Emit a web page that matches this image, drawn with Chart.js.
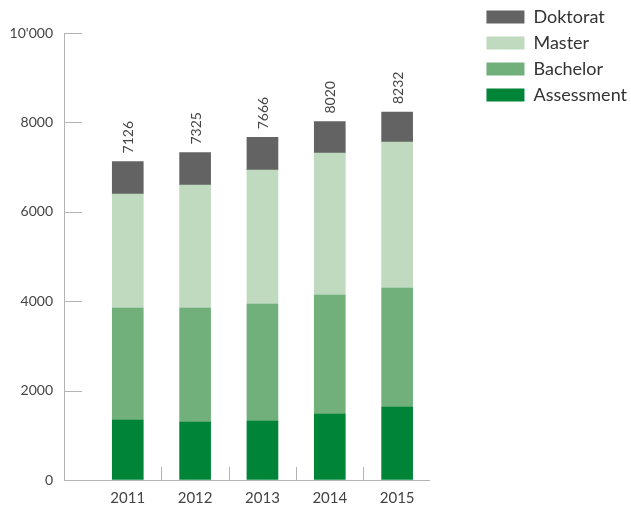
<!DOCTYPE html>
<html>
<head>
<meta charset="utf-8">
<script src="https://cdn.jsdelivr.net/npm/chart.js@4"></script>
<style>
  html, body { margin: 0; padding: 0; background: #fff; }
  #wrap { width: 631px; height: 505px; position: relative; }
</style>
</head>
<body>
<div id="wrap"><canvas id="chart"></canvas></div>
<script>
const years = [2011, 2012, 2013, 2014, 2015];
const assessment = [1342, 1298, 1320, 1477, 1633];
const bachelor = [2506, 2550, 2617, 2662, 2662];
const master = [2550, 2752, 2998, 3176, 3267];
const doktorat = [728, 725, 731, 705, 670];
const totals = [7126, 7325, 7666, 8020, 8232];
const yTicks = [0, 2000, 4000, 6000, 8000, 10000];
const yTickLabels = ['0', '2000', '4000', '6000', '8000', "10'000"];

const axisColor = '#b3b3b3';
const textColor = '#444';

Chart.defaults.font.family = 'Lato';

function points(values) {
  return years.map((yr, i) => ({ x: yr, y: values[i] }));
}

// short tick marks pointing into the plot, plus the totals above the bars
const innerTicks = {
  id: 'innerTicks',
  afterDatasetsDraw(chart) {
    const { ctx, chartArea, scales: { x, y } } = chart;
    ctx.save();
    ctx.strokeStyle = axisColor;
    ctx.lineWidth = 1;
    ctx.beginPath();
    yTicks.forEach(v => {
      if (v === 0) return;
      const py = Math.round(y.getPixelForValue(v)) + 0.5;
      ctx.moveTo(chartArea.left, py);
      ctx.lineTo(chartArea.left + 18, py);
    });
    for (let i = 0; i < years.length - 1; i++) {
      const px = Math.round(x.getPixelForValue((years[i] + years[i + 1]) / 2)) + 0.5;
      ctx.moveTo(px, chartArea.bottom);
      ctx.lineTo(px, chartArea.bottom - 13);
    }
    ctx.stroke();

    const meta = chart.getDatasetMeta(chart.data.datasets.length - 1);
    ctx.fillStyle = textColor;
    ctx.font = '14px Lato';
    ctx.textAlign = 'left';
    ctx.textBaseline = 'middle';
    meta.data.forEach((bar, i) => {
      ctx.save();
      ctx.translate(bar.x + 1, bar.y - 8);
      ctx.rotate(-Math.PI / 2);
      ctx.fillText(String(totals[i]), 0, 0);
      ctx.restore();
    });
    ctx.restore();
  }
};

const ctx = document.getElementById('chart').getContext('2d');
new Chart(ctx, {
  type: 'bar',
  data: {
    datasets: [
      { label: 'Assessment', data: points(assessment), backgroundColor: '#008437' },
      { label: 'Bachelor', data: points(bachelor), backgroundColor: '#71b07b' },
      { label: 'Master', data: points(master), backgroundColor: '#bfdabf' },
      { label: 'Doktorat', data: points(doktorat), backgroundColor: '#636363' },
    ],
  },
  options: {
    responsive: true,
    maintainAspectRatio: false,
    animation: false,
    barThickness: 31,
    borderWidth: 0,
    layout: { padding: { left: 0, top: 0, bottom: 0, right: -6 } },
    scales: {
      x: {
        type: 'linear',
        stacked: true,
        offset: false,
        min: 2010.053,
        max: 2015.48,
        afterBuildTicks(scale) {
          scale.ticks = years.map(v => ({ value: v }));
        },
        afterFit(scale) { scale.height = 25; },
        ticks: {
          callback: v => String(v),
          font: { size: 15 },
          color: textColor,
          padding: 9,
          maxRotation: 0,
        },
        grid: { drawOnChartArea: false, drawTicks: false },
        border: { color: axisColor },
      },
      y: {
        stacked: true,
        min: 0,
        max: 10000,
        afterBuildTicks(scale) {
          scale.ticks = yTicks.map(v => ({ value: v }));
        },
        afterFit(scale) { scale.width = 64; },
        ticks: {
          callback: v => yTickLabels[yTicks.indexOf(v)],
          font: { size: 14 },
          color: textColor,
          padding: 11,
        },
        grid: { drawOnChartArea: false, drawTicks: false },
        border: { color: axisColor },
      },
      top: {
        type: 'linear',
        position: 'top',
        display: false,
        afterFit(scale) { scale.height = 33; },
      },
      right: {
        type: 'linear',
        position: 'right',
        display: false,
        afterFit(scale) { scale.width = 49; },
      },
    },
    plugins: {
      legend: {
        position: 'right',
        align: 'start',
        reverse: true,
        labels: {
          boxWidth: 38,
          boxHeight: 13,
          padding: 8,
          color: '#333',
          font: { size: 18 },
        },
      },
      tooltip: { enabled: true },
    },
  },
  plugins: [innerTicks],
});
</script>
</body>
</html>
